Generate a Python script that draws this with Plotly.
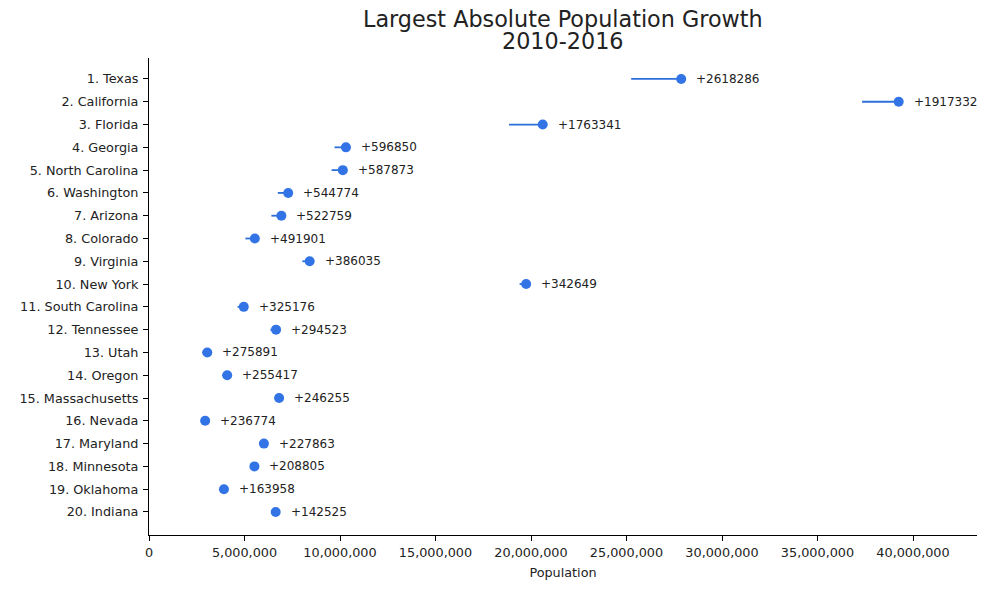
import plotly.graph_objects as go

states = ["Texas", "California", "Florida", "Georgia", "North Carolina", "Washington",
          "Arizona", "Colorado", "Virginia", "New York", "South Carolina", "Tennessee",
          "Utah", "Oregon", "Massachusetts", "Nevada", "Maryland", "Minnesota",
          "Oklahoma", "Indiana"]
pop_2016 = [27862596, 39250017, 20612439, 10310371, 10146788, 7288000,
            6931071, 5540545, 8411808, 19745289, 4961119, 6651194,
            3051217, 4093465, 6811779, 2940058, 6016447, 5519952,
            3923561, 6633053]
growth = [2618286, 1917332, 1763341, 596850, 587873, 544774,
          522759, 491901, 386035, 342649, 325176, 294523,
          275891, 255417, 246255, 236774, 227863, 208805,
          163958, 142525]
title_lines = ["Largest Absolute Population Growth", "2010-2016"]

labels = [f"{i+1}. {s}" for i, s in enumerate(states)]
pos = list(range(len(states)))
pop_2010 = [p - g for p, g in zip(pop_2016, growth)]

line_color = "#2c6fd8"
dot_color = "#3274e6"
font = "DejaVu Sans"

fig = go.Figure()
lx, ly = [], []
for y, a, b in zip(pos, pop_2010, pop_2016):
    lx += [a, b, None]
    ly += [y, y, None]
fig.add_trace(go.Scatter(x=lx, y=ly, mode="lines",
                         line=dict(color=line_color, width=1.8),
                         hoverinfo="skip", showlegend=False))
fig.add_trace(go.Scatter(x=pop_2016, y=pos, mode="markers",
                         marker=dict(color=dot_color, size=10),
                         showlegend=False))
for y, x, g in zip(pos, pop_2016, growth):
    fig.add_annotation(x=x, y=y, text=f"+{g}", showarrow=False,
                       xanchor="left", yanchor="middle", xshift=13,
                       font=dict(family=font, size=12, color="#222222"))

for line, ty in zip(title_lines, [1.0815, 1.0355]):
    fig.add_annotation(text=line, xref="paper", yref="paper", x=0.5, y=ty,
                       xanchor="center", yanchor="middle", showarrow=False,
                       font=dict(family=font, size=22.3, color="#222222"))

fig.update_layout(
    width=991, height=590,
    margin=dict(l=149, r=14, t=58, b=55, autoexpand=False),
    paper_bgcolor="white", plot_bgcolor="white",
    font=dict(family=font, size=12.8, color="#222222"),
)
fig.update_xaxes(range=[0, 43.35e6], tickvals=[0, 5e6, 10e6, 15e6, 20e6, 25e6, 30e6, 35e6, 40e6],
                 ticktext=["0", "5,000,000", "10,000,000", "15,000,000", "20,000,000",
                           "25,000,000", "30,000,000", "35,000,000", "40,000,000"],
                 showline=True, linecolor="black", linewidth=1, ticks="outside",
                 ticklen=5, tickcolor="black", showgrid=False, zeroline=False,
                 automargin=False, ticklabelstandoff=1,
                 title=dict(text="Population", standoff=8, font=dict(size=12.8)))
fig.update_yaxes(range=[20.01, -0.92], tickvals=pos, ticktext=labels,
                 showline=True, linecolor="black", linewidth=1, ticks="outside",
                 ticklen=5, tickcolor="black", showgrid=False, zeroline=False,
                 automargin=False, ticklabelstandoff=2)

fig.write_html("out.html", config={"displayModeBar": False},
               post_script="document.body.style.margin='0';")
